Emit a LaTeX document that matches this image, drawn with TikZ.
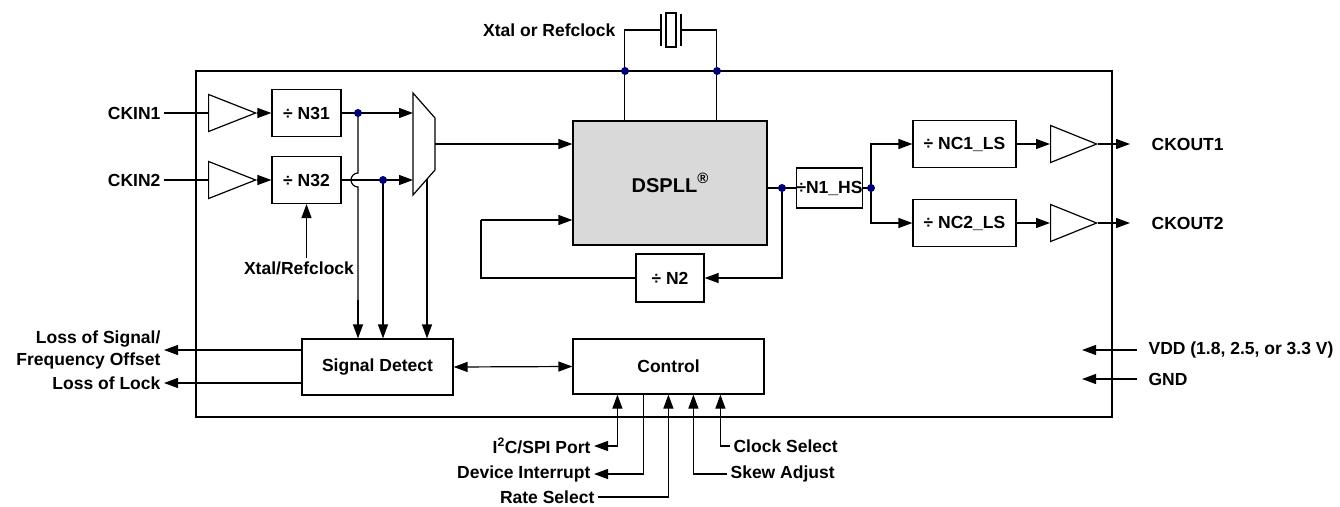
\documentclass[tikz,border=0pt]{standalone}
\usepackage{fontspec}
\setmainfont{Liberation Sans}
\usetikzlibrary{arrows.meta,shapes.geometric}
\definecolor{dotblue}{RGB}{0,0,120}
\definecolor{pllgray}{RGB}{217,217,217}
\tikzset{
  blk/.style 2 args={draw,minimum width=#1,minimum height=#2,inner sep=0pt},
  buf/.style={draw,isosceles triangle,isosceles triangle stretches,shape border rotate=0,
    minimum width=37pt,minimum height=47pt,inner sep=0pt,anchor=west},
  lbl/.style={inner sep=3pt}
}
\begin{document}
\begin{tikzpicture}[>={Triangle[length=14pt,width=10pt]},x=1pt,y=-1pt,line width=1.2pt,
  font=\fontsize{17.5}{22}\selectfont\bfseries]
\useasboundingbox (0,0) rectangle (1340,506);
\draw (196,71) rectangle (1112,417);

\node[buf] (bi1) at (208,113) {};
\node[buf] (bi2) at (208,180) {};
\node[blk={69pt}{47pt}] (n31) at (306.5,113) {\textdiv\ N31};
\node[blk={69pt}{47pt}] (n32) at (306.5,180) {\textdiv\ N32};
\node[blk={194pt}{124pt},fill=pllgray,font=\fontsize{20}{24}\selectfont\bfseries] (dspll) at (670,183)
  {DSPLL\raisebox{9pt}{\fontsize{15}{18}\selectfont\textregistered}};
\node[blk={63pt}{40pt}] (n1hs) at (829.5,188) {\textdiv N1\_HS};
\node[blk={103pt}{47pt}] (nc1) at (964.5,144) {\textdiv\ NC1\_LS};
\node[blk={103pt}{47pt}] (nc2) at (964.5,223) {\textdiv\ NC2\_LS};
\node[buf,minimum height=46pt] (bo1) at (1050,144) {};
\node[buf,minimum height=46pt] (bo2) at (1050,223) {};
\node[blk={68pt}{48pt}] (n2) at (670,278) {\textdiv\ N2};
\node[blk={151pt}{56pt}] (sd) at (377.5,367) {Signal Detect};
\node[blk={191pt}{55pt}] (ctrl) at (668.5,366.5) {Control};

\node[lbl,anchor=east] (ckin1) at (164,113) {CKIN1};
\node[lbl,anchor=east] (ckin2) at (164,180) {CKIN2};
\node[lbl,anchor=west] (ckout1) at (1148,144) {CKOUT1};
\node[lbl,anchor=west] (ckout2) at (1148,223) {CKOUT2};
\node[lbl] (xref) at (299,268) {Xtal/Refclock};
\node[lbl,anchor=east] (xtal) at (619,30) {Xtal or Refclock};
\node[lbl,anchor=east,align=right] (los) at (164,350) {Loss of Signal/\\Frequency Offset};
\node[lbl,anchor=east] (lol) at (164,383) {Loss of Lock};
\node[lbl,anchor=west] (vdd) at (1145,350) {VDD (1.8, 2.5, or 3.3 V)};
\node[lbl,anchor=west] (gnd) at (1145,379) {GND};
\node[lbl,anchor=east] (i2c) at (594,446) {I\textsuperscript{2}C/SPI Port};
\node[lbl,anchor=east] (intr) at (594,474) {Device Interrupt};
\node[lbl,anchor=east] (rate) at (598,497) {Rate Select};
\node[lbl,anchor=west] (skew) at (727,474) {Skew Adjust};
\node[lbl,anchor=west] (clk) at (730,446) {Clock Select};

\coordinate (m1) at (413,93);
\coordinate (m2) at (435,118);
\coordinate (m3) at (435,170);
\coordinate (m4) at (413,195);
\coordinate (mo) at (435,144);
\coordinate (mb) at (427,179);
\coordinate (d1) at (358,113);
\coordinate (d2) at (383,180);
\coordinate (d3) at (782,188);
\coordinate (fork) at (871,188);
\coordinate (x1) at (625,71);
\coordinate (x2) at (717,71);
\coordinate (xl) at (661,30);
\coordinate (xr) at (681,30);
\coordinate (fb) at (481,220);
\coordinate (vddin) at (1082,350);
\coordinate (gndin) at (1082,379);

\draw (m1) -- (m2) -- (m3) -- (m4) -- cycle;
\draw (xl) ++(0,-16) -- ++(0,32);
\draw (666,13) rectangle (676,47);
\draw (xr) ++(0,-16) -- ++(0,32);

\draw (ckin1.east) -- (bi1.west);
\draw (ckin2.east) -- (bi2.west);
\draw[->] (bi1.apex) -- (n31.west);
\draw[->] (bi2.apex) -- (n32.west);
\draw[->] (n31.east) -- (n31.east -| m1);
\draw[->] (n32.east) -- (n32.east -| m1);
\draw[->] (xref.north -| n32.south) -- (n32.south);
\draw (d1) -- (358,173) arc[start angle=90,end angle=270,radius=7pt] -- (358,300);
\draw[->] (358,300) -- (d1 |- sd.north);
\draw[->] (d2) -- (d2 |- sd.north);
\draw[->] (mb) -- (mb |- sd.north);
\draw[->] (mo) -- (mo -| dspll.west);
\draw ([xshift=52pt]dspll.north west) |- (xl);
\draw ([xshift=144pt]dspll.north west) |- (xr);
\draw (dspll.east |- d3) -- (n1hs.west);
\draw[->] (d3) |- (n2.east);
\draw (n2.west) -| (fb);
\draw[->] (fb) -- (fb -| dspll.west);
\draw (n1hs.east) -- (fork);
\draw[->] (fork) |- (nc1.west);
\draw[->] (fork) |- (nc2.west);
\draw[->] (nc1.east) -- (bo1.west);
\draw[->] (nc2.east) -- (bo2.west);
\draw[->] (bo1.apex) -- ([xshift=-18pt]ckout1.west);
\draw[->] (bo2.apex) -- ([xshift=-18pt]ckout2.west);
\draw[->] (sd.west |- los.east) -- (los.east);
\draw[->] (sd.west |- lol.east) -- (lol.east);
\draw[<->] (sd.east) -- (ctrl.west);
\draw[->] ([xshift=-8pt]vdd.west) -- (vddin);
\draw[->] ([xshift=-8pt]gnd.west) -- (gndin);
\draw[<->] ([xshift=45pt]ctrl.south west) |- (i2c.east);
\draw[->] ([xshift=71pt]ctrl.south west) |- (intr.east);
\draw[->] (rate.east) -| ([xshift=96pt]ctrl.south west);
\draw[->] (skew.west) -| ([xshift=121pt]ctrl.south west);
\draw[->] (clk.west) -| ([xshift=148pt]ctrl.south west);

\foreach \p in {d1,d2,d3,fork,x1,x2}
  \fill[dotblue] (\p) circle (4pt);
\end{tikzpicture}
\end{document}
